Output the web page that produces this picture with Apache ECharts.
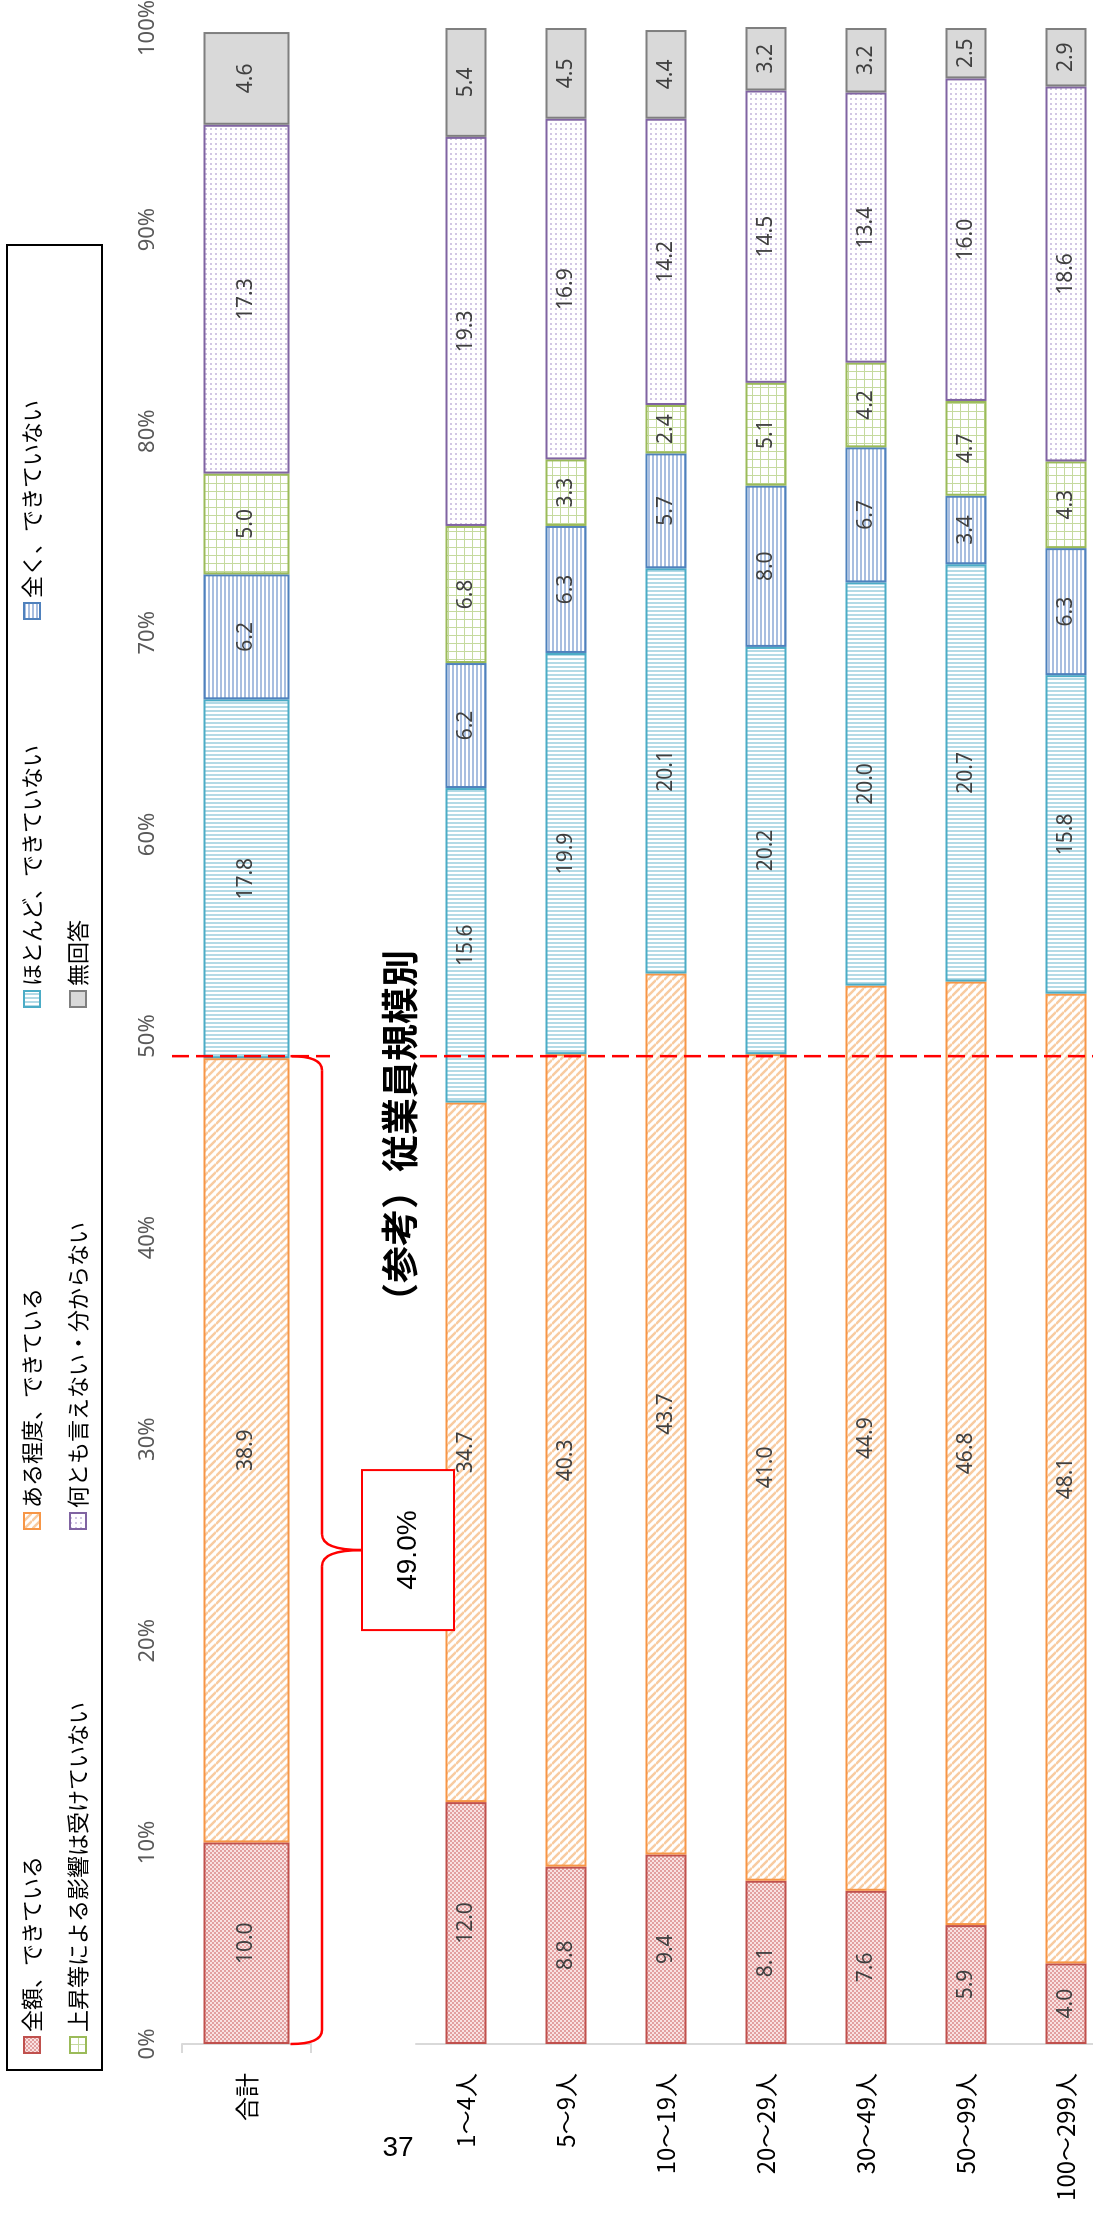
<!DOCTYPE html>
<html>
<head>
<meta charset="utf-8">
<script src="https://cdn.jsdelivr.net/npm/echarts@6/dist/echarts.min.js"></script>
<style>
html,body{margin:0;padding:0;width:1093px;height:2220px;overflow:hidden;background:#fff;}
/* chart is drawn landscape, then turned a quarter left like the printed page */
#main{position:absolute;left:0;top:2220px;width:2220px;height:1130px;transform-origin:0 0;transform:rotate(-90deg);}
#page{position:absolute;left:378px;top:2131px;width:40px;line-height:32px;text-align:center;font-size:28px;font-family:"Liberation Sans",Arial,sans-serif;color:#000;}
</style>
</head>
<body>
<div id="main"></div>
<div id="page">37</div>
<script>
// カテゴリ
var categoriesTotal = ['合計'];
var categoriesSize = ['1～4人', '5～9人', '10～19人', '20～29人', '30～49人', '50～99人', '100～299人'];
var seriesNames = ['全額、できている', 'ある程度、できている', 'ほとんど、できていない', '全く、できていない',
  '上昇等による影響は受けていない', '何とも言えない・分からない', '無回答'];

// 合計（系列順）
var totalValues = [10.0, 38.9, 17.8, 6.2, 5.0, 17.3, 4.6];

// 従業員規模別（カテゴリ順）
var sizeFull = [12.0, 8.8, 9.4, 8.1, 7.6, 5.9, 4.0];
var sizeSome = [34.7, 40.3, 43.7, 41.0, 44.9, 46.8, 48.1];
var sizeMostlyNot = [15.6, 19.9, 20.1, 20.2, 20.0, 20.7, 15.8];
var sizeNotAtAll = [6.2, 6.3, 5.7, 8.0, 6.7, 3.4, 6.3];
var sizeNoEffect = [6.8, 3.3, 2.4, 5.1, 4.2, 4.7, 4.3];
var sizeUnknown = [19.3, 16.9, 14.2, 14.5, 13.4, 16.0, 18.6];
var sizeNoAnswer = [5.4, 4.5, 4.4, 3.2, 3.2, 2.5, 2.9];

var refValue = 49.0;
var refLabel = '49.0%';
var titleText = '（参考）従業員規模別';

var sizeData = [sizeFull, sizeSome, sizeMostlyNot, sizeNotAtAll, sizeNoEffect, sizeUnknown, sizeNoAnswer];

function makePattern(size, bg, draw) {
  var c = document.createElement('canvas');
  c.width = size; c.height = size;
  var g = c.getContext('2d');
  g.fillStyle = bg;
  g.fillRect(0, 0, size, size);
  draw(g, size);
  return { image: c, repeat: 'repeat' };
}

var fills = [
  makePattern(4, '#F9E2E2', function (g) { g.fillStyle = '#E2A0A0'; g.fillRect(0, 0, 2, 2); g.fillRect(2, 2, 2, 2); }),
  makePattern(8, '#FFFFFF', function (g) {
    g.strokeStyle = '#F8CBA0'; g.lineWidth = 2.5;
    for (var k = -8; k <= 8; k += 8) { g.beginPath(); g.moveTo(k, 0); g.lineTo(k + 8, 8); g.stroke(); }
  }),
  makePattern(4, '#FFFFFF', function (g) { g.fillStyle = '#B3DAE6'; g.fillRect(0, 0, 2, 4); }),
  makePattern(4, '#FFFFFF', function (g) { g.fillStyle = '#A8BEE0'; g.fillRect(0, 0, 4, 2); }),
  makePattern(8, '#FFFFFF', function (g) { g.fillStyle = '#C5DA9E'; g.fillRect(0, 0, 8, 1); g.fillRect(0, 0, 1, 8); }),
  makePattern(5, '#FFFFFF', function (g) { g.fillStyle = '#D2C7E4'; g.fillRect(0, 0, 2, 2); }),
  '#D9D9D9'
];
var borders = ['#C0504D', '#F79646', '#4BACC6', '#4F81BD', '#9BBB59', '#8064A2', '#7F7F7F'];

var cjk = '"Noto Sans CJK JP", "Noto Sans", sans-serif';
var latin = '"Noto Sans", "DejaVu Sans", sans-serif';

var lbl = {
  show: true, position: 'inside', fontSize: 21, color: '#404040', fontFamily: latin,
  formatter: function (p) { return p.value.toFixed(1); }
};

var series = [];
seriesNames.forEach(function (name, i) {
  var style = { color: fills[i], borderColor: borders[i], borderWidth: 2 };
  series.push({ name: name, type: 'bar', stack: 'total', xAxisIndex: 0, yAxisIndex: 0, barWidth: 86,
    data: [totalValues[i]], itemStyle: style, label: lbl });
  series.push({ name: name, type: 'bar', stack: 'size', xAxisIndex: 1, yAxisIndex: 1, barWidth: 41,
    data: sizeData[i], itemStyle: style, label: lbl });
});

// 凡例の位置（横, 縦中心）
var legendPos = [[166, 32], [690, 32], [1212, 32], [1600, 32], [166, 78], [690, 78], [1212, 78]];
var legends = seriesNames.map(function (n, i) {
  return {
    data: [n], left: legendPos[i][0], top: legendPos[i][1] - 11, padding: 0,
    icon: 'rect', itemWidth: 16, itemHeight: 16, selectedMode: false,
    textStyle: { fontSize: 22, color: '#000', fontFamily: cjk }
  };
});

var catLabel = { fontSize: 24, color: '#000', margin: 29, fontFamily: cjk };

var option = {
  animation: false,
  legend: legends,
  grid: [
    { left: 176, width: 2016, top: 182, height: 129, outerBoundsMode: 'none' },
    { left: 176, width: 2016, top: 416, height: 700, outerBoundsMode: 'none' }
  ],
  xAxis: [
    { gridIndex: 0, type: 'value', min: 0, max: 100, interval: 10, position: 'top',
      axisLine: { show: false }, axisTick: { show: false }, splitLine: { show: false },
      axisLabel: { formatter: '{value}%', fontSize: 22, color: '#595959', margin: 23, fontFamily: latin } },
    { gridIndex: 1, type: 'value', min: 0, max: 100, interval: 10, show: false, splitLine: { show: false } }
  ],
  yAxis: [
    { gridIndex: 0, type: 'category', data: categoriesTotal, inverse: true,
      axisLine: { lineStyle: { color: '#D9D9D9', width: 2 } },
      axisTick: { show: true, length: 9, lineStyle: { color: '#D9D9D9', width: 2 } },
      axisLabel: catLabel },
    { gridIndex: 1, type: 'category', data: categoriesSize, inverse: true,
      axisLine: { lineStyle: { color: '#D9D9D9', width: 2 } },
      axisTick: { show: false },
      axisLabel: catLabel }
  ],
  series: series
};

var chart = echarts.init(document.getElementById('main'));
chart.setOption(option);

// 49.0% の括弧と破線は軸の座標から描く
var uA = chart.convertToPixel({ xAxisIndex: 0 }, 0);
var uB = chart.convertToPixel({ xAxisIndex: 0 }, refValue);
var uRef = chart.convertToPixel({ xAxisIndex: 1 }, refValue);
var vBar = chart.convertToPixel({ yAxisIndex: 0 }, categoriesTotal[0]) + 44;
var vLine = 322, vTip = 362;
var uM = (uA + uB) / 2;
var red = { fill: null, stroke: '#FF0000', lineWidth: 2.5 };

function curve(x1, y1, cx, cy, x2, y2) {
  return { type: 'bezierCurve', z: 10, shape: { x1: x1, y1: y1, cpx1: cx, cpy1: cy, x2: x2, y2: y2 }, style: red };
}
function seg(x1, y1, x2, y2) {
  return { type: 'line', z: 10, shape: { x1: x1, y1: y1, x2: x2, y2: y2 }, style: red };
}

var dash = { stroke: '#FF0000', lineWidth: 2.5, lineDash: [17, 7] };

chart.setOption({
  graphic: [
    { type: 'rect', shape: { x: 150, y: 7, width: 1825, height: 95 }, style: { fill: null, stroke: '#000', lineWidth: 2 }, z: 1 },
    { type: 'line', shape: { x1: uRef, y1: 172, x2: uRef, y2: 330 }, style: dash, z: 10 },
    { type: 'line', shape: { x1: uRef, y1: 420, x2: uRef, y2: 1130 }, style: dash, z: 10 },
    curve(uA, vBar, uA, vLine, uA + 14, vLine),
    seg(uA + 14, vLine, uM - 16, vLine),
    curve(uM - 16, vLine, uM, vLine, uM, vTip),
    curve(uM, vTip, uM, vLine, uM + 16, vLine),
    seg(uM + 16, vLine, uB - 14, vLine),
    curve(uB - 14, vLine, uB, vLine, uB, vBar),
    { type: 'rect', shape: { x: uM - 80, y: vTip, width: 160, height: 92 }, style: { fill: '#fff', stroke: '#FF0000', lineWidth: 2 }, z: 10 },
    { type: 'text', x: uM, y: vTip + 46, z: 11,
      style: { text: refLabel, fill: '#000', fontSize: 28, fontFamily: '"Liberation Sans", Arial, sans-serif', align: 'center', verticalAlign: 'middle' } },
    { type: 'text', x: 1085, y: 400, z: 11,
      style: { text: titleText, fill: '#000', fontSize: 37, fontWeight: 'bold', fontFamily: cjk, align: 'center', verticalAlign: 'middle' } }
  ]
});
</script>
</body>
</html>
